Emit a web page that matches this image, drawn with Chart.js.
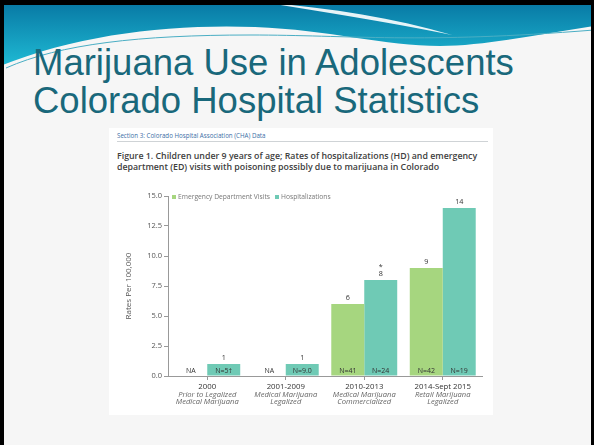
<!DOCTYPE html>
<html lang="en">
<head>
<meta charset="UTF-8">
<title>Marijuana Use in Adolescents</title>
<script src="https://cdn.jsdelivr.net/npm/chart.js"></script>
<style>
  html, body { margin: 0; padding: 0; }
  body { width: 594px; height: 445px; position: relative; overflow: hidden; background: #f6f6f6; }
  .wave { position: absolute; left: 0; top: 0; }
  .frame { position: absolute; left: 0; top: 0; right: 0; bottom: 0;
           border-left: 4px solid #000; border-top: 5px solid #000; border-right: 3px solid #000; }
  .title { position: absolute; left: 33px; top: 44px; margin: 0;
           font-family: "Liberation Sans", Arial, sans-serif; font-weight: normal;
           font-size: 36.5px; line-height: 38px; color: #19687b; }
  .figure { position: absolute; left: 109px; top: 128px; width: 384px; height: 287px; background: #fff; }
  .section { position: absolute; left: 8px; top: 3px; font: 6.2px "Open Sans", sans-serif; color: #3b6ea6; }
  .rule { position: absolute; left: 8px; top: 13px; width: 371px; height: 1px; background: #cfd3d6; }
  .caption { position: absolute; left: 8px; top: 23px; width: 376px;
             font: 600 8.8px/11px "Open Sans", sans-serif; color: #404040; white-space: nowrap; }
  #chart { position: absolute; left: 0; top: 55px; }
</style>
</head>
<body>

<svg class="wave" width="594" height="90" viewBox="0 0 594 90">
  <defs>
    <linearGradient id="teal" x1="0" y1="0" x2="0" y2="1">
      <stop offset="0" stop-color="#0776a2"/>
      <stop offset="1" stop-color="#1fbad4"/>
    </linearGradient>
  </defs>
  <path d="M0,0 H594 V26 C540,34 485,46 440,46 C385,46 330,30 255,27 C170,24 80,34 0,66 Z" fill="url(#teal)"/>
  <path d="M268,3 C330,8 395,18 452,35 C400,24 335,14 268,3 Z" fill="#ffffff" opacity="0.9"/>
  <path d="M6,68 C60,44 140,35 250,35 C350,35 420,44 594,30" fill="none" stroke="#4aaec4" stroke-width="1"/>
</svg>
<div class="frame"></div>

<h1 class="title">Marijuana Use in Adolescents<br>Colorado Hospital Statistics</h1>

<div class="figure">
  <div class="section">Section 3: Colorado Hospital Association (CHA) Data</div>
  <div class="rule"></div>
  <div class="caption">Figure 1. Children under 9 years of age; Rates of hospitalizations (HD) and emergency<br>department (ED) visits with poisoning possibly due to marijuana in Colorado</div>
  <canvas id="chart" width="384" height="232" style="width:384px;height:232px"></canvas>
</div>

<script>
// data
const categories = ['2000', '2001-2009', '2010-2013', '2014-Sept 2015'];
const categoryNotes = [
    ['Prior to Legalized', 'Medical Marijuana'],
    ['Medical Marijuana', 'Legalized'],
    ['Medical Marijuana', 'Commercialized'],
    ['Retail Marijuana', 'Legalized']
];
const edRates = [null, null, 6, 9];
const hospRates = [1, 1, 8, 14];
const edCounts = ['NA', 'NA', 'N=41', 'N=42'];
const hospCounts = ['N=5\u2020', 'N=9.0', 'N=24', 'N=19'];
const hospMarks = ['', '', '*', ''];
const yTicks = [0, 2.5, 5, 7.5, 10, 12.5, 15];

const edColor = '#a6d67f';
const hospColor = '#6fcab5';
const font = '"Open Sans", sans-serif';

// value above bar, N count at the foot of the bar
const barLabels = {
    id: 'barLabels',
    afterDatasetsDraw(chart) {
        const ctx = chart.ctx;
        const base = chart.scales.y.getPixelForValue(0);
        const counts = [edCounts, hospCounts];
        ctx.save();
        ctx.textAlign = 'center';
        ctx.textBaseline = 'middle';
        chart.data.datasets.forEach((ds, di) => {
            chart.getDatasetMeta(di).data.forEach((bar, i) => {
                const x = bar.x;
                ctx.fillStyle = '#333';
                ctx.font = '7px ' + font;
                ctx.fillText(counts[di][i], x, base - 5.5);
                const v = ds.data[i];
                if (v === null) return;
                ctx.font = '7.2px ' + font;
                ctx.fillText(String(Math.round(v)), x, bar.y - 6.5);
                if (di === 1 && hospMarks[i]) ctx.fillText(hospMarks[i], x, bar.y - 13);
            });
        });
        ctx.restore();
    }
};

// small legend sitting inside the plot, level with the 15.0 tick
const insideLegend = {
    id: 'insideLegend',
    afterDraw(chart) {
        const ctx = chart.ctx;
        const a = chart.chartArea;
        let x = a.left + 4;
        const y = a.top + 1;
        ctx.save();
        ctx.font = '6.7px ' + font;
        ctx.textBaseline = 'middle';
        chart.data.datasets.forEach(ds => {
            ctx.fillStyle = ds.backgroundColor;
            ctx.fillRect(x, y - 2, 4, 4);
            x += 6;
            ctx.fillStyle = '#777';
            ctx.fillText(ds.label, x, y);
            x += ctx.measureText(ds.label).width + 5;
        });
        ctx.restore();
    }
};

// category labels: period in upright type, note in italics
const xLabels = {
    id: 'xLabels',
    afterDraw(chart) {
        const ctx = chart.ctx;
        const xs = chart.scales.x;
        const top = chart.chartArea.bottom;
        ctx.save();
        ctx.textAlign = 'center';
        ctx.textBaseline = 'middle';
        categories.forEach((c, i) => {
            const x = xs.getPixelForValue(i);
            ctx.fillStyle = '#333';
            ctx.font = '7.8px ' + font;
            ctx.fillText(c, x, top + 10.5);
            ctx.fillStyle = '#666';
            ctx.font = 'italic 7.6px ' + font;
            categoryNotes[i].forEach((line, j) => ctx.fillText(line, x, top + 18.5 + j * 7.5));
        });
        ctx.restore();
    }
};

new Chart(document.getElementById('chart'), {
    type: 'bar',
    data: {
        labels: categories,
        datasets: [
            { label: 'Emergency Department Visits', data: edRates, backgroundColor: edColor },
            { label: 'Hospitalizations', data: hospRates, backgroundColor: hospColor }
        ]
    },
    options: {
        responsive: false,
        animation: false,
        layout: { padding: { left: 0, right: 11, top: 13, bottom: 0 } },
        datasets: { bar: { categoryPercentage: 0.84, barPercentage: 1 } },
        plugins: { legend: { display: false }, tooltip: { enabled: false } },
        scales: {
            x: {
                grid: { drawOnChartArea: false, offset: false, tickLength: 4, color: '#999' },
                border: { color: '#999' },
                ticks: { display: false },
                afterFit(s) { s.height = 39; }
            },
            y: {
                min: yTicks[0],
                max: yTicks[yTicks.length - 1],
                afterBuildTicks(s) { s.ticks = yTicks.map(v => ({ value: v })); },
                ticks: { callback: v => v.toFixed(1), font: { size: 7.5, family: font }, color: '#555', padding: 2 },
                grid: { drawOnChartArea: false, tickLength: 4, color: '#999' },
                border: { color: '#999' },
                title: {
                    display: true, text: 'Rates Per 100,000', color: '#555',
                    font: { size: 8, family: font }, padding: { top: 15, bottom: 0 }
                },
                afterFit(s) { s.width = 59; }
            }
        }
    },
    plugins: [barLabels, insideLegend, xLabels]
});
</script>
</body>
</html>
